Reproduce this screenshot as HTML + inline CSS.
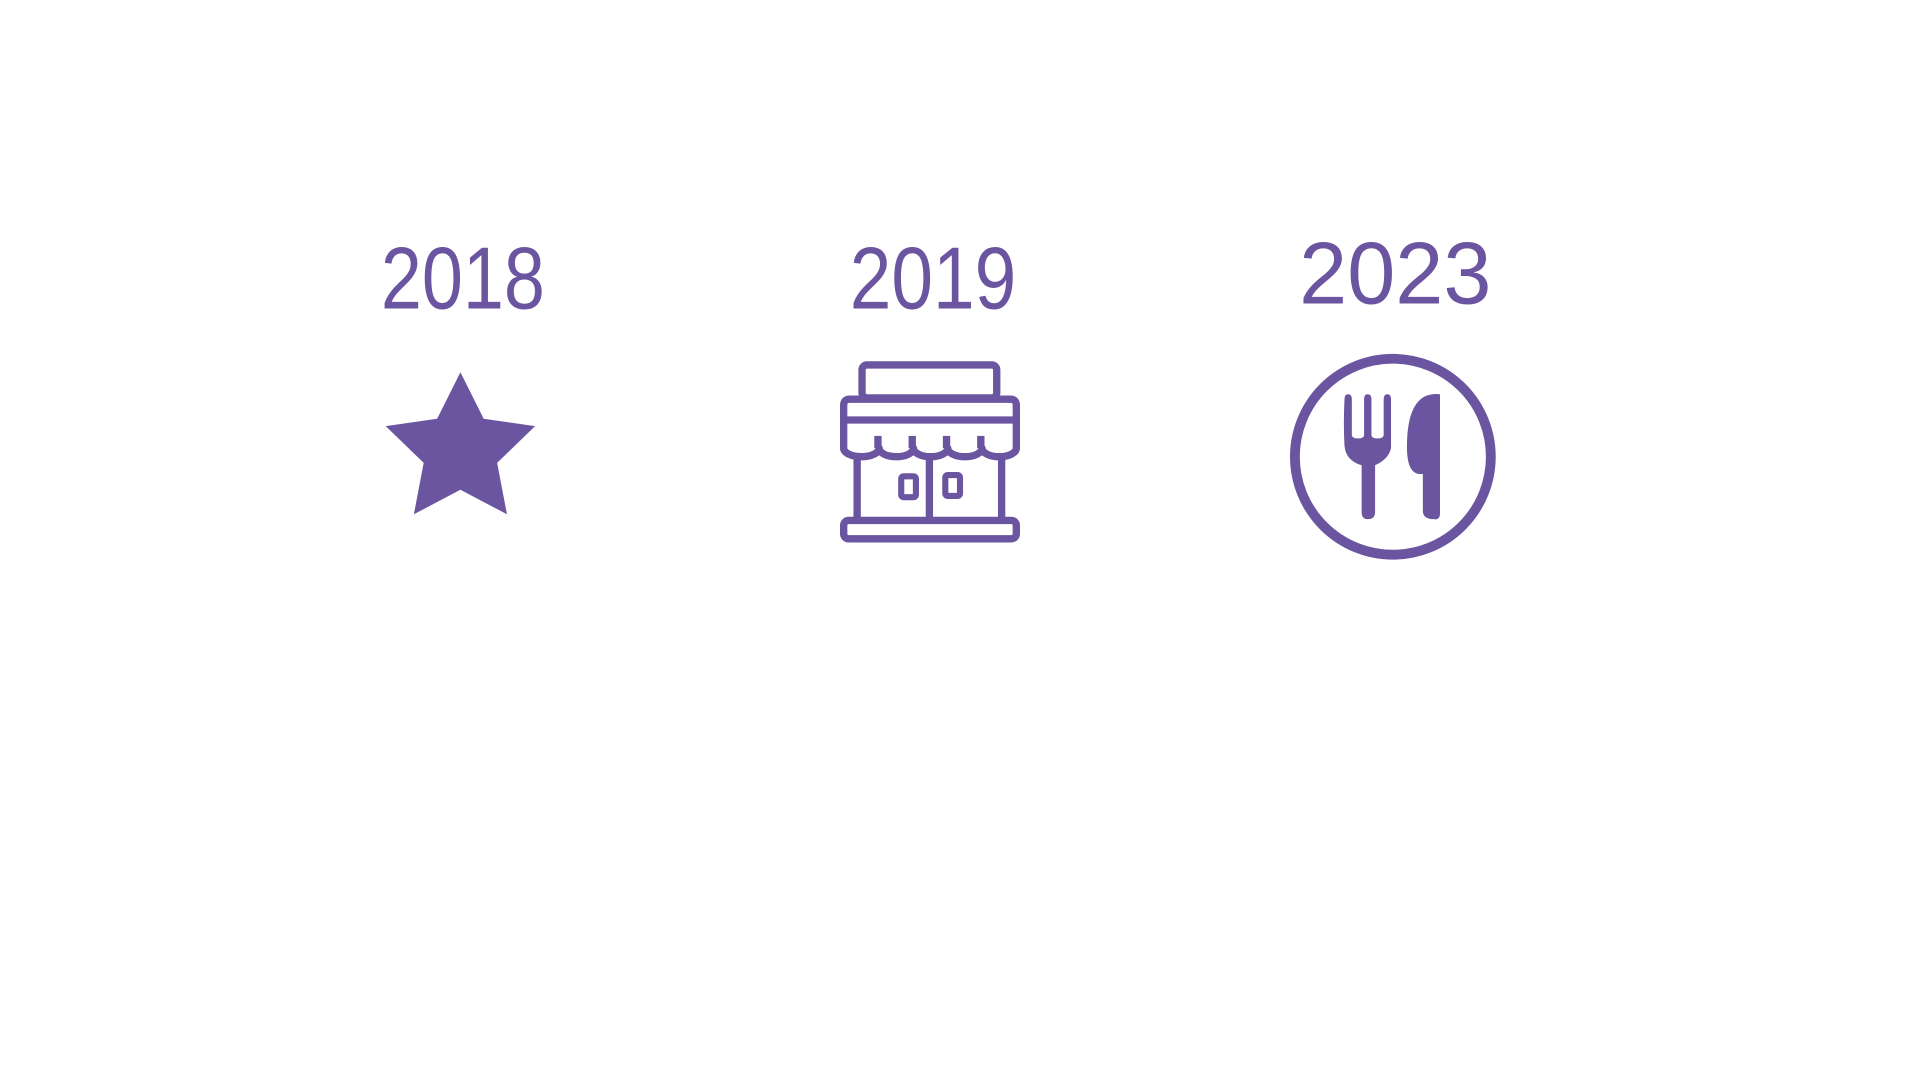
<!DOCTYPE html>
<html><head><meta charset="utf-8"><style>html,body{margin:0;padding:0;background:#fff;width:1920px;height:1080px;overflow:hidden}</style></head>
<body>
<svg width="1920" height="1080" viewBox="0 0 1568 882" xmlns="http://www.w3.org/2000/svg">
<g fill="#6b55a0" font-family="Liberation Sans, sans-serif" font-size="72">
<text x="311" y="252" textLength="134" lengthAdjust="spacingAndGlyphs">2018</text>
<text x="694" y="252" textLength="136" lengthAdjust="spacingAndGlyphs">2019</text>
<text x="1061" y="248" textLength="157" lengthAdjust="spacingAndGlyphs">2023</text>
</g>
<polygon fill="#6b55a0" points="376,304 395,342 437,348 406,378 414,420 376,400 338,420 346,378 315,348 357,342"/>
<g fill="none" stroke="#6b55a0" stroke-width="6" stroke-linejoin="round">
<rect x="704" y="298" width="110" height="27" rx="4"/>
<path d="M689,366 V331 q0,-5 5,-5 H825 q5,0 5,5 V366 A14,7 0 0 1 802,366 A14,7 0 0 1 774,366 A14,7 0 0 1 746,366 A14,7 0 0 1 718,366 A14.5,7 0 0 1 689,366 Z"/>
<line x1="689" y1="343" x2="830" y2="343"/>
<line x1="717" y1="356" x2="717" y2="366"/><line x1="745" y1="356" x2="745" y2="366"/><line x1="773" y1="356" x2="773" y2="366"/><line x1="801" y1="356" x2="801" y2="366"/>
<line x1="700" y1="372" x2="700" y2="425"/><line x1="818" y1="372" x2="818" y2="425"/><line x1="759" y1="372" x2="759" y2="425"/>
<rect x="736" y="389" width="12" height="17" rx="2" stroke-width="5"/>
<rect x="772" y="388" width="12" height="17" rx="2" stroke-width="5"/>
<rect x="689" y="425" width="141" height="15" rx="4"/>
<circle cx="1137.5" cy="373" r="80" stroke-width="8"/>
</g>
<g fill="#6b55a0">
<path d="M1098,326 q0,-4 3,-4 q3,0 3,4 V355 q0,3 5,3 q5,0 5,-3 V326 q0,-4 3,-4 q3,0 3,4 V355 q0,3 5,3 q5,0 5,-3 V326 q0,-4 3,-4 q3,0 3,4 V366 q-2,9 -13,14 V418 q0,6 -6,6 q-5,0 -5,-6 V380 q-13,-4 -14,-16 q-1,-18 0,-38 Z"/>
<path d="M1176,322 V419 q0,6 -5,5 q-9,0 -9,-7 V387 q-13,2 -13,-22 q0,-46 27,-43 Z"/>
</g>
</svg>
</body></html>
